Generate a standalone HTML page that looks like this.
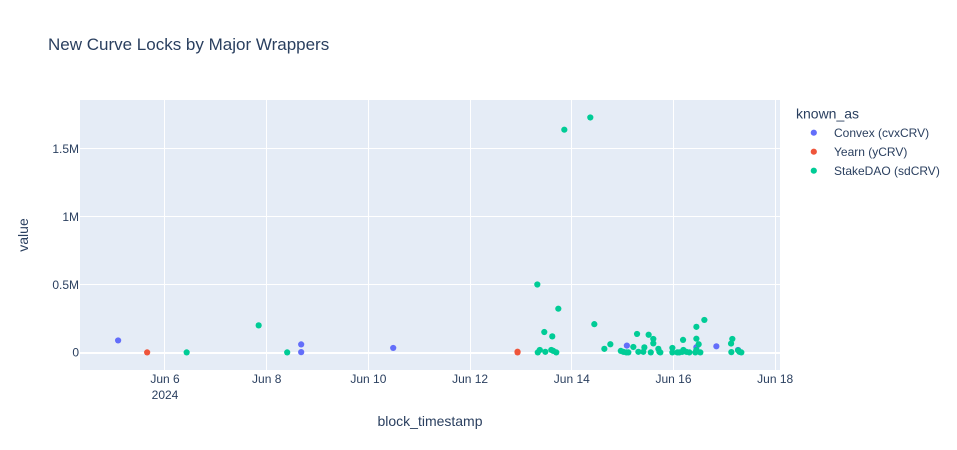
<!DOCTYPE html>
<html>
<head>
<meta charset="utf-8">
<title>New Curve Locks by Major Wrappers</title>
<style>
html,body{margin:0;padding:0;background:#fff;}
svg{display:block;font-family:"Liberation Sans",sans-serif;}
text{fill:#2a3f5f;}
</style>
</head>
<body>
<svg id="chart" width="957" height="450" viewBox="0 0 957 450" xmlns="http://www.w3.org/2000/svg">
  <rect x="80" y="100" width="700" height="270" fill="#E5ECF6"/>
  <g id="grid"></g>
  <g id="marks"></g>
  <g id="ticks"></g>
  <text x="48" y="50" font-size="17">New Curve Locks by Major Wrappers</text>
  <text x="430" y="426" font-size="14" text-anchor="middle">block_timestamp</text>
  <text transform="translate(28,235) rotate(-90)" font-size="14" text-anchor="middle">value</text>
  <g id="legend">
    <text x="796" y="118.5" font-size="14">known_as</text>
  </g>
</svg>
<script>
// Day of June 2024 (fractional) and value in thousands
const seriesNames = ['Convex (cvxCRV)', 'Yearn (yCRV)', 'StakeDAO (sdCRV)'];
const seriesColors = ['#636efa', '#EF553B', '#00cc96'];
const convexDays = [5.075, 8.675, 8.675, 10.485, 15.08, 16.447, 16.84, 17.267];
const convexValues = [88, 59, 2, 33, 50, 38, 45, 18];
const yearnDays = [5.646, 12.93, 12.93];
const yearnValues = [0, 5, 0];
const stakeDays = [6.423, 7.839, 8.4, 13.319, 13.85, 14.361, 13.732, 13.456, 13.613, 14.44, 13.328, 13.368, 13.476, 13.594, 13.633, 13.692, 14.637, 14.755, 14.961, 15.01, 15.069, 15.109, 15.207, 15.28, 15.306, 15.404, 15.424, 15.508, 15.55, 15.6, 15.6, 15.699, 15.719, 15.738, 15.975, 15.975, 16.073, 16.112, 16.171, 16.191, 16.185, 16.25, 16.309, 16.427, 16.447, 16.447, 16.492, 16.447, 16.604, 16.525, 17.129, 17.154, 17.135, 17.267, 17.292, 17.331];
const stakeValues = [0, 199, 0, 500, 1640, 1730, 322, 150, 118, 208, 0, 18, 4, 18, 11, 0, 26, 60, 11, 4, 0, 0, 40, 136, 4, 4, 37, 130, 0, 99, 66, 26, 4, 0, 33, 0, 0, 0, 4, 18, 92, 4, 0, 0, 18, 101, 60, 188, 239, 0, 65, 99, 2, 15, 4, 0];
const xTickDays = [6, 8, 10, 12, 14, 16, 18];
const xTickLabels = ['Jun 6', 'Jun 8', 'Jun 10', 'Jun 12', 'Jun 14', 'Jun 16', 'Jun 18'];
const yTickValues = [0, 500, 1000, 1500];
const yTickLabels = ['0', '0.5M', '1M', '1.5M'];

const NS = 'http://www.w3.org/2000/svg';
const xScale = d => 165.15 + (d - 6) * 50.85;
const yScale = v => 352.4 - v * 0.1358;

function make(tag, attrs, parent, text) {
  const el = document.createElementNS(NS, tag);
  for (const k in attrs) el.setAttribute(k, attrs[k]);
  if (text !== undefined) el.textContent = text;
  parent.appendChild(el);
  return el;
}

const grid = document.getElementById('grid');
const ticks = document.getElementById('ticks');
const marks = document.getElementById('marks');
const legend = document.getElementById('legend');

xTickDays.forEach((d, i) => {
  const x = xScale(d);
  const gx = Math.floor(x - 0.24) + 0.5;
  const line = make('line', {x1: gx, x2: gx, y1: 100, y2: 370, stroke: '#fff', 'stroke-width': 1}, grid);
  
  
  const t = make('text', {x: x - 0.15, y: 383, 'font-size': 12, 'text-anchor': 'middle'}, ticks, xTickLabels[i]);
  
  
});

const yearLabel = make('text', {x: xScale(6) - 0.15, y: 399, 'font-size': 12, 'text-anchor': 'middle'}, ticks, '2024');



yTickValues.forEach((v, i) => {
  const y = yScale(v);
  const gy = v === 0 ? 353 : Math.floor(y) + 0.5;
  const line = make('line', {x1: 80, x2: 780, y1: gy, y2: gy, stroke: '#fff', 'stroke-width': v === 0 ? 2 : 1}, grid);
  
  
  const t = make('text', {x: 79, y: y + 4.3, 'font-size': 12, 'text-anchor': 'end'}, ticks, yTickLabels[i]);
  
  
});

[[convexDays, convexValues], [yearnDays, yearnValues], [stakeDays, stakeValues]].forEach((s, si) => {
  s[0].forEach((d, i) => {
    const c = make('circle', {cx: xScale(d), cy: yScale(s[1][i]), r: 3.1, fill: seriesColors[si]}, marks);
    
    
  });
  const ly = 132.7 + si * 19;
  const dot = make('circle', {cx: 813.8, cy: ly, r: 3.1, fill: seriesColors[si]}, legend);
  
  
  const label = make('text', {x: 834, y: ly + 4.3, 'font-size': 12}, legend, seriesNames[si]);
  
  
});
</script>
</body>
</html>
